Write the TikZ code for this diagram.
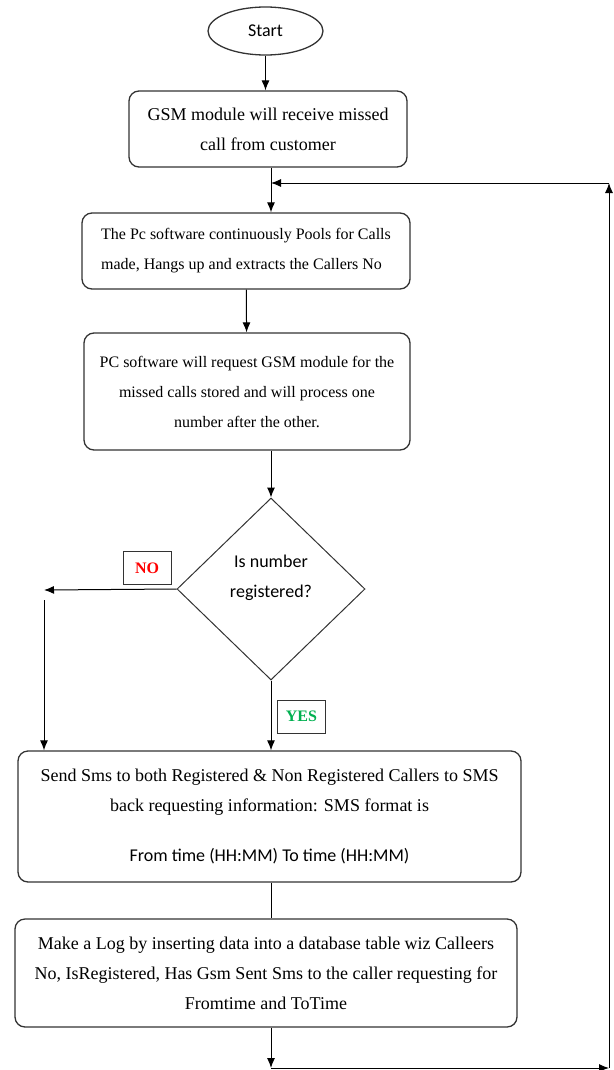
\documentclass[tikz,border=0pt]{standalone}
\usepackage{fontspec}
\setmainfont{Liberation Serif}
\newfontfamily\calib{Carlito}
\usetikzlibrary{shapes.geometric,arrows.meta}

\begin{document}
\begin{tikzpicture}[x=1pt, y=-1pt,
    font=\fontsize{18}{30}\selectfont,
    box/.style={draw=black!80, line width=1.3pt, rounded corners=10pt, inner sep=0pt, align=center},
    narrow/.style={font=\fontsize{16}{30}\selectfont},
    arr/.style={-{Latex[length=10pt,width=8pt]}, line width=1pt},
    tag/.style={draw=black!80, line width=1pt, fill=white, inner sep=0pt, minimum width=48pt, minimum height=33pt, font=\fontsize{16}{18}\selectfont\bfseries}]

    % colours of the labels
    \definecolor{NoRed}{RGB}{255, 0, 0}
    \definecolor{YesGreen}{RGB}{0, 176, 80}

    \useasboundingbox (0, 0) rectangle (613, 1070);

    % the steps
    \node[ellipse, draw=black!80, line width=1.3pt, minimum width=115pt, minimum height=48pt, inner sep=0pt] (start) at (265.5, 31) {\calib Start};
    \node[box, minimum width=278pt, minimum height=76pt] (gsm) at (268, 129) {GSM module will receive missed\\call from customer};
    \node[box, narrow, minimum width=328pt, minimum height=76pt, align=left] (poll) at (246, 251) {The Pc software continuously Pools for Calls\\made, Hangs up and extracts the Callers No};
    \node[box, narrow, minimum width=326pt, minimum height=117pt] (fetch) at (247, 391.5) {PC software will request GSM module for the\\missed calls stored and will process one\\number after the other.};
    \node[diamond, draw=black!80, line width=1pt, minimum width=188pt, minimum height=182pt, inner sep=0pt] (check) at (271, 589) {};
    \node[align=center] (checktext) at (271, 578) {\calib Is number\\\calib registered?};
    \node[box, minimum width=503pt, minimum height=131pt] (sms) at (269.5, 816.5) {Send Sms to both Registered \& Non Registered Callers to SMS\\back requesting information: SMS format is\\[20pt]\calib From time (HH:MM) To time (HH:MM)};
    \node[box, minimum width=502pt, minimum height=108pt] (logdb) at (266, 973) {Make a Log by inserting data into a database table wiz Calleers\\No, IsRegistered, Has Gsm Sent Sms to the caller requesting for\\Fromtime and ToTime};

    % corners of the lines
    \coordinate (join) at (271, 183);
    \coordinate (noend) at (44, 590);
    \coordinate (loopbl) at (271, 1068);
    \coordinate (loopbr) at (609, 1068);
    \coordinate (looptr) at (609, 183);

    % arrows
    \draw[arr] (start.south) -- (start.south |- gsm.north);
    \draw[arr] (gsm.south -| join) -- (poll.north -| join);
    \draw[arr] (poll) -- (fetch);
    \draw[arr] (fetch.south -| check.north) -- (check.north);
    \draw[arr] (check.west) -- (noend);
    \draw[arr] ([yshift=-10pt]noend) -- (noend |- sms.north);
    \draw[arr] (check.south) -- (check.south |- sms.north);
    \draw[line width=1pt] (sms.south -| check.south) -- (logdb.north -| check.south);
    \draw[arr] (logdb.south -| loopbl) -- (loopbl);
    \draw[arr] (loopbl) -- (loopbr);
    \draw[arr] (loopbr) -- (looptr);
    \draw[arr] (looptr) -- (join);

    % yes / no
    \node[tag, text=NoRed] (no) at (147, 568) {NO};
    \node[tag, text=YesGreen] (yes) at (301.5, 716.5) {YES};

\end{tikzpicture}
\end{document}
